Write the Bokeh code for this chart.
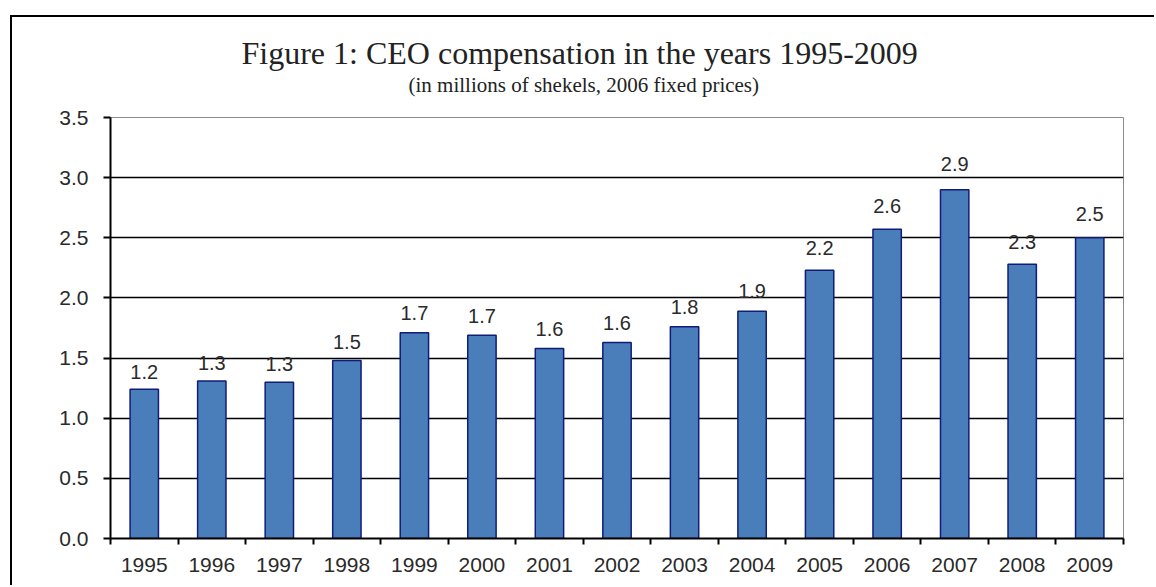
from bokeh.plotting import figure
from bokeh.models import ColumnDataSource, FixedTicker, Title
from bokeh.core.properties import value
from bokeh.embed import file_html
from bokeh.resources import INLINE

years = ["1995", "1996", "1997", "1998", "1999", "2000", "2001", "2002",
         "2003", "2004", "2005", "2006", "2007", "2008", "2009"]
comp = [1.24, 1.31, 1.30, 1.48, 1.71, 1.69, 1.58, 1.63, 1.76, 1.89,
        2.23, 2.57, 2.90, 2.28, 2.50]
labels = ["1.2", "1.3", "1.3", "1.5", "1.7", "1.7", "1.6", "1.6", "1.8", "1.9",
          "2.2", "2.6", "2.9", "2.3", "2.5"]
y_ticks = [0.0, 0.5, 1.0, 1.5, 2.0, 2.5, 3.0, 3.5]
title_text = "Figure 1: CEO compensation in the years 1995-2009"
subtitle_text = "(in millions of shekels, 2006 fixed prices)"

xpos = [i + 0.5 for i in range(len(years))]
label_y = [v * 1.04 + 0.02 for v in comp]
src = ColumnDataSource(dict(x=xpos, y=comp, ly=label_y, lab=labels, year=years))

p = figure(width=1144, height=570, output_backend="svg", toolbar_location=None,
           x_range=(0, len(years)), y_range=(0, 3.5),
           min_border_left=98, min_border_right=33, min_border_top=100,
           min_border_bottom=49)
p.margin = (15, 0, 0, 10)
p.styles = {"border-top": "2px solid black", "border-left": "2px solid black"}
p.background_fill_color = "white"
p.border_fill_color = "white"
p.outline_line_color = "#8c8c8c"
p.outline_line_width = 1

p.vbar(x="x", top="y", width=0.42, source=src, fill_color="#4a7ebb",
       line_color="#101c78", line_width=1.5)
p.text(x="x", y="ly", text="lab", source=src, y_offset=-9,
       text_align="center", text_baseline="alphabetic",
       text_font=value("Liberation Sans"), text_font_size="20px",
       text_color="#2a2a2a")

# axes
p.xaxis.ticker = FixedTicker(ticks=xpos, minor_ticks=list(range(len(years) + 1)))
p.xaxis.major_label_overrides = {x: y for x, y in zip(xpos, years)}
p.xaxis.major_tick_out = 0
p.xaxis.major_tick_in = 0
p.xaxis.minor_tick_out = 6
p.xaxis.minor_tick_in = 0
p.xaxis.minor_tick_line_color = "black"
p.xaxis.minor_tick_line_width = 2
p.xaxis.axis_line_color = "black"
p.xaxis.axis_line_width = 2
p.xaxis.major_label_standoff = 13
p.xaxis.major_label_text_font = "Liberation Sans"
p.xaxis.major_label_text_font_size = "21px"
p.xaxis.major_label_text_color = "#2a2a2a"

p.yaxis.ticker = FixedTicker(ticks=y_ticks)
p.yaxis.major_label_overrides = {t: f"{t:.1f}" for t in y_ticks}
p.yaxis.major_tick_out = 7
p.yaxis.major_tick_in = 0
p.yaxis.major_tick_line_color = "black"
p.yaxis.major_tick_line_width = 2
p.yaxis.minor_tick_line_color = None
p.yaxis.axis_line_color = "black"
p.yaxis.axis_line_width = 2
p.yaxis.major_label_standoff = 15
p.yaxis.major_label_text_font = "Liberation Sans"
p.yaxis.major_label_text_font_size = "21px"
p.yaxis.major_label_text_color = "#2a2a2a"

p.xgrid.grid_line_color = None
p.ygrid.ticker = FixedTicker(ticks=y_ticks[1:-1])
p.ygrid.grid_line_color = "black"
p.ygrid.grid_line_width = 1.5

# titles (subtitle first: closest to plot)
p.add_layout(Title(text=subtitle_text, align="left", offset=298, standoff=42,
                   text_font="Liberation Serif", text_font_size="21px",
                   text_font_style="normal", text_color="#222222"), "above")
p.add_layout(Title(text=title_text, align="left", offset=131, standoff=-43,
                   text_font="Liberation Serif", text_font_size="32px",
                   text_font_style="normal", text_color="#222222"), "above")

open("out.html", "w").write(file_html(p, INLINE))
